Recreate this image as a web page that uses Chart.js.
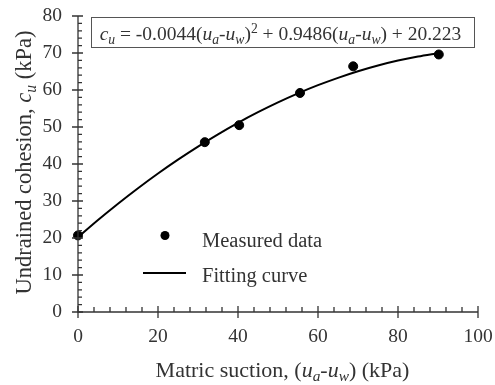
<!DOCTYPE html>
<html>
<head>
<meta charset="utf-8">
<script src="https://cdn.jsdelivr.net/npm/chart.js@4.4.1/dist/chart.umd.min.js"></script>
<style>
  body { margin: 0; background: #fff; }
  #wrap { width: 495px; height: 385px; }
</style>
</head>
<body>
<div id="wrap"><canvas id="chart" width="495" height="385"></canvas></div>
<script>
// measured points
const measuredX = [0, 31.7, 40.3, 55.5, 68.8, 90.2];
const measuredY = [20.7, 45.9, 50.5, 59.2, 66.4, 69.6];

// fitting curve
const fitX = [0, 5, 10, 15, 20, 25, 30, 35, 40, 45, 50, 55, 60, 65, 70, 75, 80, 85, 90];
const fitY = [20.22, 24.86, 29.27, 33.46, 37.44, 41.19, 44.72, 48.03, 51.13, 54.00,
              56.65, 59.09, 61.30, 63.29, 65.07, 66.62, 67.95, 69.06, 69.96];

const xTickLabels = [0, 20, 40, 60, 80, 100];
const yTickLabels = [0, 10, 20, 30, 40, 50, 60, 70, 80];

const FONT = '"Liberation Serif", "Times New Roman", serif';
const INK = '#333';

// draw text made of pieces: {t, i (italic), sub, sup}
function richWidth(ctx, parts, size) {
  let w = 0;
  parts.forEach(p => {
    const s = (p.sub || p.sup) ? size * 0.7 : size;
    ctx.font = (p.i ? 'italic ' : '') + s + 'px ' + FONT;
    w += ctx.measureText(p.t).width;
  });
  return w;
}
function richText(ctx, parts, x, y, size) {
  ctx.textBaseline = 'alphabetic';
  ctx.textAlign = 'left';
  parts.forEach(p => {
    const s = (p.sub || p.sup) ? size * 0.7 : size;
    ctx.font = (p.i ? 'italic ' : '') + s + 'px ' + FONT;
    let dy = 0;
    if (p.sub) dy = size * 0.22;
    if (p.sup) dy = -size * 0.38;
    ctx.fillText(p.t, x, y + dy);
    x += ctx.measureText(p.t).width;
  });
}

const axesPlugin = {
  id: 'axesPlugin',
  afterDraw(chart) {
    const ctx = chart.ctx;
    const xs = chart.scales.x, ys = chart.scales.y;
    const x0 = xs.getPixelForValue(0), x1 = xs.getPixelForValue(100);
    const y0 = ys.getPixelForValue(0), y1 = ys.getPixelForValue(80);
    ctx.save();
    ctx.strokeStyle = INK;
    ctx.fillStyle = INK;
    ctx.lineWidth = 1.3;

    // axis lines
    ctx.beginPath();
    ctx.moveTo(x0, y1); ctx.lineTo(x0, y0); ctx.lineTo(x1, y0);
    ctx.stroke();

    // x ticks
    ctx.beginPath();
    for (let v = 0; v <= 100; v += 4) {
      const px = xs.getPixelForValue(v);
      if (v % 20 === 0) { ctx.moveTo(px, y0 + 6); ctx.lineTo(px, y0 - 6); }
      else { ctx.moveTo(px, y0); ctx.lineTo(px, y0 - 5); }
    }
    // y ticks
    for (let v = 0; v <= 80; v += 2) {
      const py = ys.getPixelForValue(v);
      if (v % 10 === 0) { ctx.moveTo(x0 - 6, py); ctx.lineTo(x0 + 5, py); }
      else { ctx.moveTo(x0, py); ctx.lineTo(x0 + 4, py); }
    }
    ctx.stroke();

    // tick labels
    ctx.font = '19.5px ' + FONT;
    ctx.textAlign = 'center';
    ctx.textBaseline = 'middle';
    xTickLabels.forEach(v => ctx.fillText(String(v), xs.getPixelForValue(v), y0 + 25));
    ctx.textAlign = 'right';
    yTickLabels.forEach(v => ctx.fillText(String(v), x0 - 16, ys.getPixelForValue(v)));

    // x title
    const xTitle = [
      { t: 'Matric suction, (' }, { t: 'u', i: true }, { t: 'a', i: true, sub: true },
      { t: '-' }, { t: 'u', i: true }, { t: 'w', i: true, sub: true }, { t: ') (kPa)' }
    ];
    const xw = richWidth(ctx, xTitle, 22);
    richText(ctx, xTitle, 282.5 - xw / 2, 376.5, 22);

    // y title
    const yTitle = [
      { t: 'Undrained cohesion, ' }, { t: 'c', i: true }, { t: 'u', i: true, sub: true },
      { t: ' (kPa)' }
    ];
    const yw = richWidth(ctx, yTitle, 22.5);
    ctx.save();
    ctx.translate(31, 162.5);
    ctx.rotate(-Math.PI / 2);
    richText(ctx, yTitle, -yw / 2, 0, 22.5);
    ctx.restore();

    // equation box
    const eq = [
      { t: 'c', i: true }, { t: 'u', i: true, sub: true }, { t: ' = -0.0044(' },
      { t: 'u', i: true }, { t: 'a', i: true, sub: true }, { t: '-' },
      { t: 'u', i: true }, { t: 'w', i: true, sub: true }, { t: ')' }, { t: '2', sup: true },
      { t: ' + 0.9486(' }, { t: 'u', i: true }, { t: 'a', i: true, sub: true }, { t: '-' },
      { t: 'u', i: true }, { t: 'w', i: true, sub: true }, { t: ') + 20.223' }
    ];
    ctx.lineWidth = 1;
    ctx.strokeStyle = '#555';
    ctx.strokeRect(91.5, 17.5, 383, 30);
    const ew = richWidth(ctx, eq, 19.5);
    richText(ctx, eq, 280.5 - ew / 2, 40, 19.5);

    // legend
    ctx.fillStyle = '#000';
    ctx.beginPath();
    ctx.arc(165, 235.5, 4.5, 0, Math.PI * 2);
    ctx.fill();
    ctx.strokeStyle = '#000';
    ctx.lineWidth = 2;
    ctx.beginPath();
    ctx.moveTo(143, 273); ctx.lineTo(186, 273);
    ctx.stroke();
    ctx.fillStyle = INK;
    ctx.font = '20.5px ' + FONT;
    ctx.textAlign = 'left';
    ctx.textBaseline = 'alphabetic';
    ctx.fillText('Measured data', 202, 246.5);
    ctx.fillText('Fitting curve', 202, 281.5);
    ctx.restore();
  }
};

new Chart(document.getElementById('chart'), {
  type: 'scatter',
  data: {
    datasets: [
      {
        label: 'Fitting curve',
        data: fitX.map((x, i) => ({ x: x, y: fitY[i] })),
        showLine: true,
        borderColor: '#000',
        borderWidth: 2,
        pointRadius: 0,
        tension: 0.3,
        clip: false,
        order: 2
      },
      {
        label: 'Measured data',
        data: measuredX.map((x, i) => ({ x: x, y: measuredY[i] })),
        backgroundColor: '#000',
        borderColor: '#000',
        pointRadius: 4.5,
        clip: false,
        order: 1
      }
    ]
  },
  options: {
    responsive: false,
    animation: false,
    devicePixelRatio: 1,
    layout: { padding: { left: 78, right: 17, top: 16, bottom: 73 } },
    plugins: { legend: { display: false }, tooltip: { enabled: false } },
    scales: {
      x: { type: 'linear', min: 0, max: 100, display: false },
      y: { type: 'linear', min: 0, max: 80, display: false }
    }
  },
  plugins: [axesPlugin]
});
</script>
</body>
</html>
